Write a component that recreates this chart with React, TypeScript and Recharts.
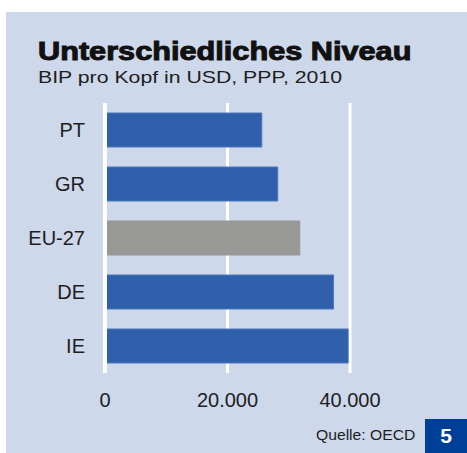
import { BarChart, Bar, Cell, XAxis, YAxis, CartesianGrid, ReferenceLine } from "recharts";

const countries = ["PT", "GR", "EU-27", "DE", "IE"];
const gdpPerHead = [25600, 28200, 31800, 37300, 39700];
const xTicks = [0, 20000, 40000];

const PANEL = "#cdd8ea";
const BLUE = "#3060ab";
const GREY = "#989896";
const NAVY = "#003f98";
const INK = "#1e1e1e";
const FONT = "'Liberation Sans', Arial, sans-serif";

const data = countries.map((c, i) => ({ country: c, value: gdpPerHead[i] }));

const fmt = (v: number) => v.toLocaleString("de-DE");

export default function App() {
  return (
    <div style={{ position: "absolute", left: 0, top: 0, width: 467, height: 453, background: "#fff", fontFamily: FONT }}>
      <div style={{ position: "absolute", left: 6, top: 12, width: 461, height: 441, background: PANEL }} />
      <div
        style={{
          position: "absolute",
          left: 38,
          top: 38,
          fontSize: 26,
          lineHeight: "26px",
          fontWeight: 700,
          color: "#111",
          WebkitTextStroke: "1px #111",
          whiteSpace: "nowrap",
          transform: "scaleX(1.18)",
          transformOrigin: "0 0",
        }}
      >
        Unterschiedliches Niveau
      </div>
      <div
        style={{
          position: "absolute",
          left: 38,
          top: 69,
          fontSize: 17,
          lineHeight: "17px",
          color: INK,
          whiteSpace: "nowrap",
          transform: "scaleX(1.25)",
          transformOrigin: "0 0",
        }}
      >
        BIP pro Kopf in USD, PPP, 2010
      </div>

      <div style={{ position: "absolute", left: 0, top: 90 }}>
        <BarChart
          width={467}
          height={340}
          data={data}
          layout="vertical"
          margin={{ top: 13, right: 117, bottom: 0, left: 0 }}
          barSize={34}
        >
          <CartesianGrid horizontal={false} stroke="#fff" strokeWidth={3} />
          <XAxis
            type="number"
            domain={[0, 40000]}
            ticks={xTicks}
            tickFormatter={fmt}
            axisLine={false}
            tickLine={false}
            tickSize={0}
            tickMargin={20}
            height={57}
            interval={0}
            tick={{ fill: INK, fontSize: 20, fontFamily: FONT }}
          />
          <YAxis
            type="category"
            dataKey="country"
            width={105}
            axisLine={false}
            tickLine={false}
            tickSize={0}
            tickMargin={20}
            tick={{ fill: INK, fontSize: 20, fontFamily: FONT }}
          />
          <Bar dataKey="value" isAnimationActive={false} strokeWidth={1}>
            {data.map((d) => (
              <Cell key={d.country} fill={d.country === "EU-27" ? GREY : BLUE} stroke={d.country === "EU-27" ? GREY : "#4f77bd"} />
            ))}
          </Bar>
          <ReferenceLine x={0} stroke="#fff" strokeWidth={4} />
        </BarChart>
      </div>

      <div
        style={{
          position: "absolute",
          left: 316,
          top: 428,
          fontSize: 14,
          lineHeight: "14px",
          color: INK,
          whiteSpace: "nowrap",
          transform: "scaleX(1.12)",
          transformOrigin: "0 0",
        }}
      >
        Quelle: OECD
      </div>
      <div
        style={{
          position: "absolute",
          left: 425,
          top: 419,
          width: 42,
          height: 34,
          background: NAVY,
          color: "#fff",
          fontSize: 21,
          fontWeight: 700,
          lineHeight: "34px",
          textAlign: "center",
        }}
      >
        5
      </div>
    </div>
  );
}
